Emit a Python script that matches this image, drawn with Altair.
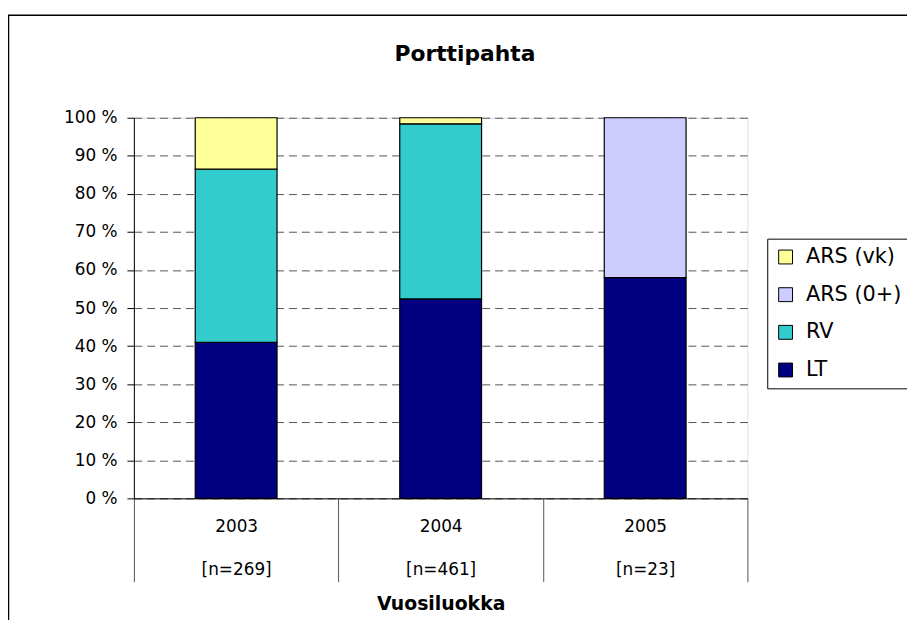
import altair as alt
import pandas as pd

# ---- data ----
years = ["2003", "2004", "2005"]
n_labels = ["[n=269]", "[n=461]", "[n=23]"]
series = ["LT", "RV", "ARS (0+)", "ARS (vk)"]
lt = [41.0, 52.4, 58.0]
rv = [45.5, 46.0, 0.0]
ars0 = [0.0, 0.0, 42.0]
arsvk = [13.5, 1.6, 0.0]
y_ticks = [0, 10, 20, 30, 40, 50, 60, 70, 80, 90, 100]
legend_order = ["ARS (vk)", "ARS (0+)", "RV", "LT"]
legend_colors = ["#FFFF99", "#CCCCFF", "#33CCCC", "#000080"]
chart_title = "Porttipahta"
x_title = "Vuosiluokka"

rows = []
for s_i, (name, vals) in enumerate(zip(series, [lt, rv, ars0, arsvk])):
    for yr, v in zip(years, vals):
        if v > 0:
            rows.append({"year": yr, "series": name, "value": v, "order": s_i})
df = pd.DataFrame(rows)

parts = [f"datum.value == '{yr}' ? ['{yr}', '{n}']" for yr, n in zip(years, n_labels)]
label_expr = " : ".join(parts) + " : datum.label"

FONT = "DejaVu Sans"

bars = alt.Chart(df).mark_bar(
    width=alt.RelativeBandSize(0.4), stroke="black", strokeWidth=1.2
).encode(
    x=alt.X(
        "year:N",
        sort=years,
        scale=alt.Scale(paddingInner=0, paddingOuter=0),
        axis=alt.Axis(
            title=x_title,
            titleFont=FONT,
            titleFontSize=19,
            titleFontWeight="bold",
            titleColor="black",
            titleY=106,
            titleBaseline="middle",
            labelAngle=0,
            labelExpr=label_expr,
            labelLineHeight=44,
            labelBaseline="top",
            labelPadding=-64,
            labelFont=FONT,
            labelFontSize=17,
            labelColor="black",
            tickBand="extent",
            tickSize=84,
            tickColor="#555555",
            domainColor="black",
            grid=False,
        ),
    ),
    y=alt.Y(
        "value:Q",
        stack="zero",
        scale=alt.Scale(domain=[0, 100], nice=False),
        axis=alt.Axis(
            values=y_ticks,
            labelExpr="datum.value + ' %'",
            title=None,
            grid=True,
            gridDash=[8, 5],
            gridColor="#555555",
            domainColor="black",
            tickColor="black",
            tickSize=7,
            labelPadding=10,
            labelFont=FONT,
            labelFontSize=17,
            labelColor="black",
        ),
    ),
    color=alt.Color(
        "series:N",
        scale=alt.Scale(domain=legend_order, range=legend_colors),
        legend=alt.Legend(
            title=None,
            orient="none",
            legendX=639,
            legendY=122,
            strokeColor="black",
            fillColor="white",
            padding=8,
            symbolType="square",
            symbolSize=196,
            symbolStrokeColor="black",
            symbolStrokeWidth=1,
            symbolOpacity=1,
            labelFont=FONT,
            labelFontSize=21,
            labelColor="black",
            labelOffset=10,
            rowPadding=16,
        ),
    ),
    order=alt.Order("order:Q", sort="ascending"),
)

title = alt.Chart(pd.DataFrame({"t": [chart_title]})).mark_text(
    font=FONT, fontSize=22, fontWeight="bold", align="center", baseline="middle", color="black"
).encode(text="t:N", x=alt.value(334), y=alt.value(-64))

border = alt.Chart(pd.DataFrame({"a": [0]})).mark_rect(
    color="white", fillOpacity=0, stroke="black", strokeWidth=1.5
).encode(x=alt.value(-126.5), x2=alt.value(2000), y=alt.value(-103.5), y2=alt.value(2000))

chart = alt.layer(border, bars, title).properties(
    width=619,
    height=384,
    autosize=alt.AutoSizeParams(type="none"),
    padding={"left": 127, "top": 108, "right": 161, "bottom": 120},
).configure_view(stroke="#808080", strokeWidth=1).configure(background="white")

chart.save("out.html", embed_options={"renderer": "svg", "actions": False})
